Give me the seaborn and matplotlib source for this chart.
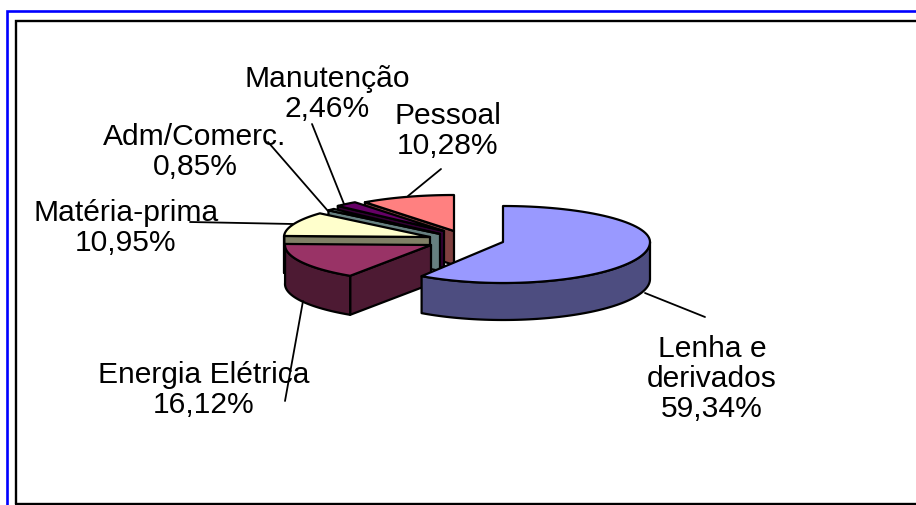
import numpy as np
import matplotlib
matplotlib.use('Agg')
import matplotlib.pyplot as plt
from matplotlib.patches import Polygon
import seaborn as sns

# valores da tabela (%)
categorias = ['Lenha e\nderivados', 'Energia Elétrica', 'Matéria-prima',
              'Adm/Comerc.', 'Manutenção', 'Pessoal']
valores = [59.34, 16.12, 10.95, 0.85, 2.46, 10.28]
rotulos = ['59,34%', '16,12%', '10,95%', '0,85%', '2,46%', '10,28%']
cores = ['#9999FF', '#993366', '#FFFFCC', '#CCFFFF', '#660066', '#FF8080']

# posicao de cada fatia: vertice (px), raio horizontal e raio vertical da frente
vertices = [(503, 243), (431, 246), (430, 238), (440, 235), (444, 232), (454, 232)]
rx_fatia = [147, 146, 146, 148, 148, 148]
ry_frente = [41, 37, 37, 37, 37, 37]
profund = [37, 39, 37, 37, 37, 34]
RY_TRAS = 36
LW = 1.6

# centro do texto e linha guia (px)
pos_texto = [(712, 379), (204, 390), (126, 228), (195, 152), (327, 94), (448, 131)]
guias = [((645, 294), (705, 318)), ((303, 302), (285, 402)), ((190, 223), (293, 225)),
         ((268, 143), (328, 212)), ((312, 125), (344, 205)), ((441, 170), (408, 197))]

sns.set_theme(style='white')
plt.rcParams['font.family'] = ['Liberation Sans', 'DejaVu Sans']
paleta = sns.color_palette(cores)
lados = [tuple(c * 0.5 for c in cor) for cor in paleta]

fig, ax = plt.subplots(figsize=(9.16, 5.06), dpi=100)
ax.set_position([0, 0, 1, 1])
ax.set_xlim(0, 916)
ax.set_ylim(506, 0)
ax.axis('off')

# molduras
ax.plot([6.5, 6.5, 916], [506, 12, 12], color='#0000FF', lw=1.9, solid_joinstyle='miter')
ax.plot([15.5, 15.5, 916], [505, 21.5, 21.5], color='black', lw=1.7, solid_joinstyle='miter')
ax.plot([15.5, 916], [505, 505], color='black', lw=1.7)


def borda(i, a):
    # a em graus, horario a partir do norte
    t = np.radians(a)
    ax0, ay0 = vertices[i]
    ry = RY_TRAS if np.cos(t) > 0 else ry_frente[i]
    return ax0 + rx_fatia[i] * np.sin(t), ay0 - ry * np.cos(t)


fim = np.cumsum(valores) / np.sum(valores) * 360
ini = np.concatenate([[0], fim[:-1]])

# de tras para frente
for i in [5, 4, 3, 2, 1, 0]:
    a0, a1 = ini[i], fim[i]
    d = profund[i]
    xv, yv = vertices[i]
    arco = np.array([borda(i, a) for a in np.linspace(a0, a1, 80)])

    # face de corte
    if i != 0:
        x0, y0 = arco[0]
        ax.add_patch(Polygon([(x0, y0), (xv, yv), (xv, yv + d), (x0, y0 + d)], closed=True,
                             fc=lados[i], ec='black', lw=LW, joinstyle='round', zorder=2 + (5 - i) * 3))

    # parede externa, so a parte da frente
    a_fr0, a_fr1 = max(a0, 90), min(a1, 272)
    if a_fr1 > a_fr0:
        fr = np.array([borda(i, a) for a in np.linspace(a_fr0, a_fr1, 80)])
        par = np.vstack([fr, (fr + [0, d])[::-1]])
        ax.add_patch(Polygon(par, closed=True, fc=lados[i], ec='black', lw=LW,
                             joinstyle='round', zorder=3 + (5 - i) * 3))

    # topo
    ax.add_patch(Polygon(np.vstack([[xv, yv], arco]), closed=True, fc=paleta[i], ec='black',
                         lw=LW, joinstyle='round', zorder=4 + (5 - i) * 3))

# linhas guia e rotulos
for (p0, p1) in guias:
    ax.plot([p0[0], p1[0]], [p0[1], p1[1]], color='black', lw=1.3, zorder=30)

for nome, rot, (x, y) in zip(categorias, rotulos, pos_texto):
    ax.text(x, y, nome + '\n' + rot, ha='center', va='center', fontsize=21.6, color='black',
            linespacing=1.1, zorder=31)

fig.savefig('out.png', dpi=100)
